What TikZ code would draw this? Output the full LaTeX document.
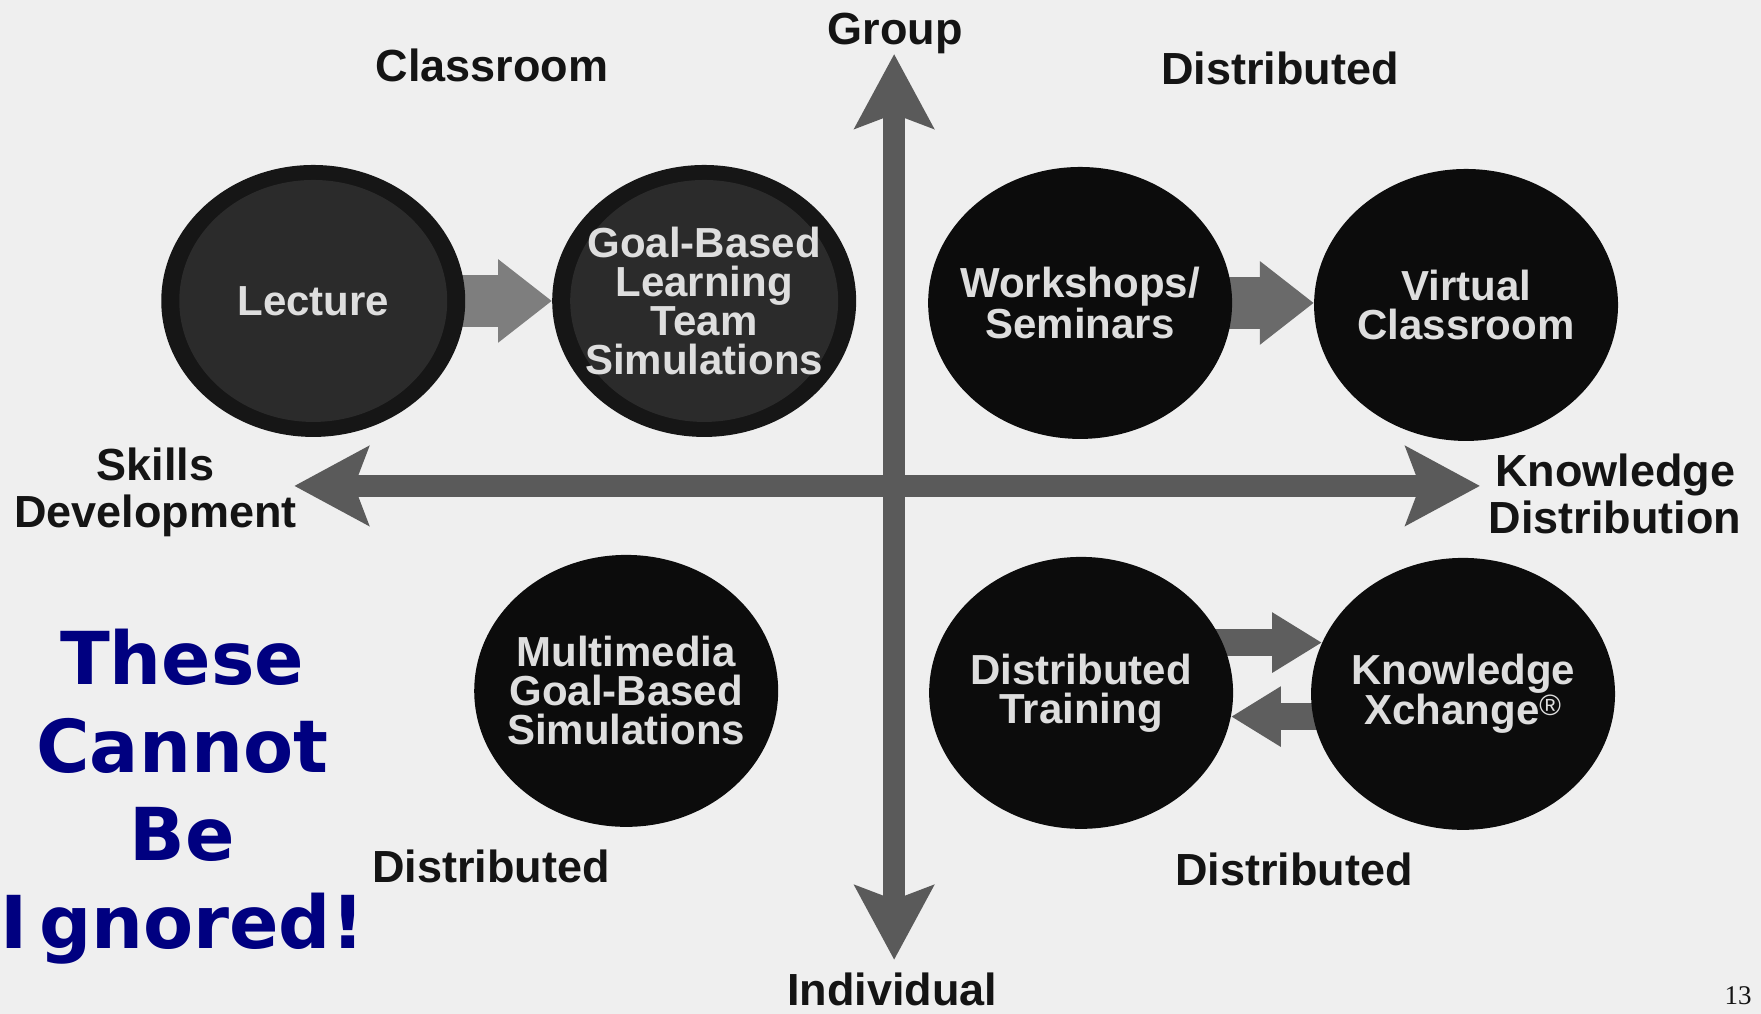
\documentclass[tikz,border=0pt]{standalone}
\usepackage{fontspec}
\setmainfont{Liberation Sans}
\newfontfamily\slogfont{DejaVu Sans}
\newfontfamily\folfont{Liberation Serif}
\usetikzlibrary{shapes.geometric,arrows.meta,calc}
\pgfdeclarelayer{paperlayer}
\pgfdeclarelayer{back}
\pgfsetlayers{paperlayer,back,main}
\definecolor{paper}{HTML}{EFEFEF}
\definecolor{ink}{HTML}{141414}
\definecolor{discrim}{HTML}{161616}
\definecolor{disccore}{HTML}{2B2B2B}
\definecolor{discdark}{HTML}{0C0C0C}
\definecolor{disctext}{HTML}{DEDEDE}
\definecolor{axisgray}{HTML}{5A5A5A}
\definecolor{flowlight}{HTML}{7E7E7E}
\definecolor{flowmid}{HTML}{6A6A6A}
\definecolor{flowdark}{HTML}{5E5E5E}
\definecolor{slogblue}{HTML}{000080}

\tikzset{
  disc/.style={ellipse, minimum width=304pt, minimum height=272pt,
    inner xsep=-25pt, inner ysep=0pt,
    fill=discdark, text=disctext, align=center,
    font=\fontsize{42}{39}\selectfont\bfseries},
  ringdisc/.style={disc, fill=discrim,
    path picture={\fill[disccore] (path picture bounding box.center)
      ellipse [x radius=134pt, y radius=121pt];}},
  axislabel/.style={text=ink, inner sep=0pt, align=center,
    font=\fontsize{45}{47}\selectfont\bfseries},
  axisarrow/.style={draw=axisgray, line width=22pt,
    {Stealth[length=74pt,width=78pt,inset=14pt]}-{Stealth[length=74pt,width=78pt,inset=14pt]}},
  flowwide/.style={line width=52pt, -{Triangle[length=54pt,width=80pt]}},
  flownarrow/.style={line width=27pt, -{Triangle[length=50pt,width=57pt]}},
  slogan/.style={text=slogblue, align=center, inner sep=0pt,
    font=\slogfont\bfseries\fontsize{73}{88}\selectfont},
}

\begin{document}
\begin{tikzpicture}[x=1pt, y=-1pt]
  % paper
  \begin{pgfonlayer}{paperlayer}
    \fill[paper] (0,0) rectangle (1761,1014);
  \end{pgfonlayer}

  % axis end points
  \coordinate (ytop) at (894,54);
  \coordinate (ybot) at (894,960);
  \coordinate (xleft) at (294,486);
  \coordinate (xright) at (1480,486);

  % quadrant discs
  \node[ringdisc] (lec)  at (313,301) {Lecture};
  \node[ringdisc] (gbl)  at (704,301) {Goal-Based\\Learning\\Team\\Simulations};
  \node[disc]     (work) at (1080,303) {Workshops/\\Seminars};
  \node[disc]     (virt) at (1466,305) {Virtual\\Classroom};
  \node[disc]     (mm)   at (626,691) {Multimedia\\Goal-Based\\Simulations};
  \node[disc]     (dt)   at (1081,693) {Distributed\\Training};
  \node[disc]     (kx)   at (1463,694) {Knowledge\\Xchange\textsuperscript{\textmd{\textregistered}}};

  % axes and flow arrows behind the discs
  \begin{pgfonlayer}{back}
    \draw[axisarrow] (ybot) -- (ytop);
    \draw[axisarrow] (xleft) -- (xright);
    \draw[flowwide, flowlight] (lec.center) -- (lec.center -| gbl.west);
    \draw[flowwide, flowmid] (work.center) -- (work.center -| virt.west);
    \draw[flownarrow, flowdark] (dt.center |- kx.160) -- (kx.160);
    \draw[flownarrow, flowdark] (kx.center |- dt.-9) -- (dt.-9);
  \end{pgfonlayer}

  % axis and quadrant labels
  \node[axislabel, anchor=base] (group) at (895,45) {Group};
  \node[axislabel, anchor=base] (indiv) at (892,1006) {Individual};
  \node[axislabel] (skills) at (155,492) {Skills\\Development};
  \node[axislabel] (knowdist) at (1615,494) {Knowledge\\Distribution};
  \node[axislabel, anchor=base] (classroom) at (492,82) {Classroom};
  \node[axislabel, anchor=base] (disttr) at (1280,85) {Distributed};
  \node[axislabel, anchor=base] (distbl) at (491,883) {Distributed};
  \node[axislabel, anchor=base] (distbr) at (1294,886) {Distributed};

  % message
  \node[slogan] (ignore) at (182,797) {These\\Cannot\\Be\\I\kern12pt gnored!};

  % page number
  \node[anchor=base, inner sep=0pt, text=ink, font=\folfont\fontsize{27}{30}\selectfont]
    (folio) at (1738,1005) {13};
\end{tikzpicture}
\end{document}
